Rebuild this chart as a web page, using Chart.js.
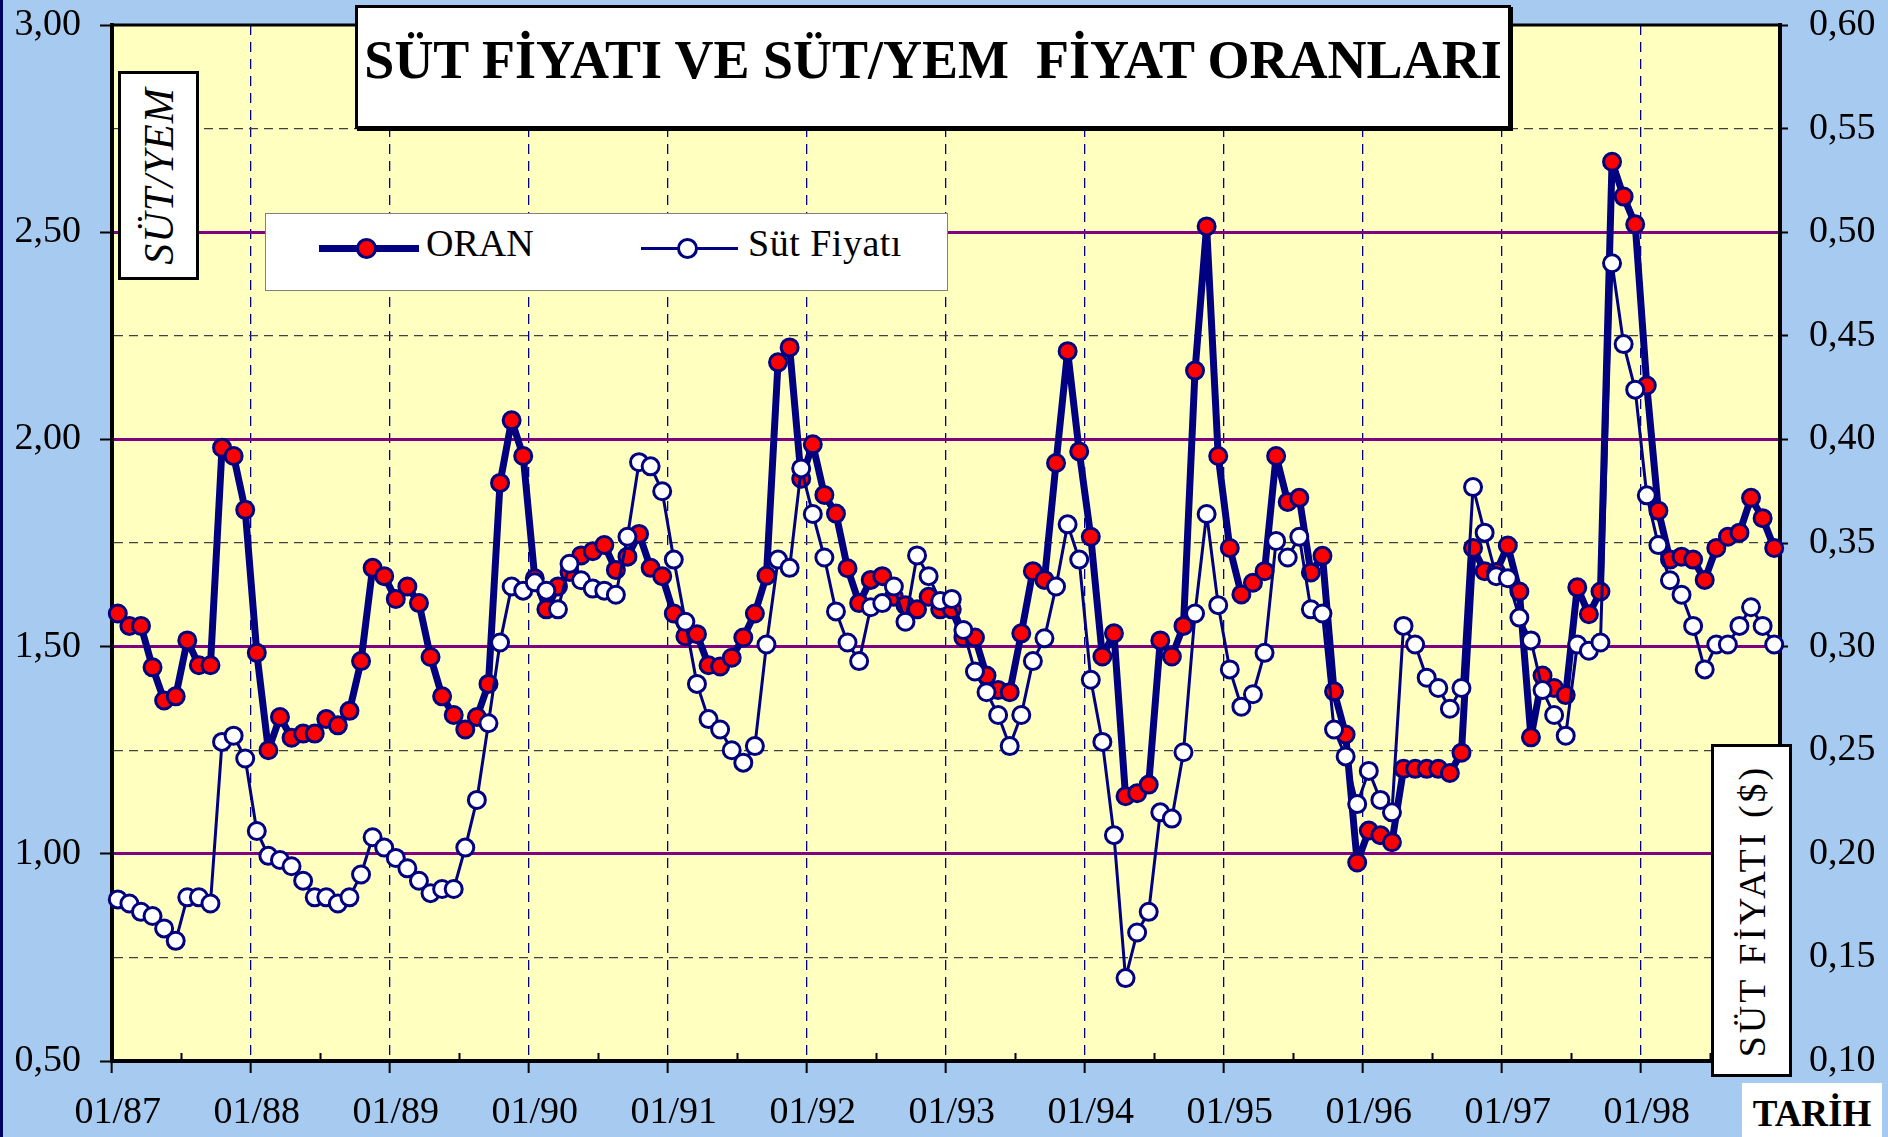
<!DOCTYPE html>
<html lang="tr">
<head>
<meta charset="utf-8">
<title>Süt Fiyatı ve Süt/Yem Fiyat Oranları</title>
<script src="https://cdn.jsdelivr.net/npm/chart.js@4.4.0/dist/chart.umd.min.js"></script>
<style>
html, body { margin: 0; padding: 0; }
body {
    width: 1888px; height: 1137px; overflow: hidden; position: relative;
    background: #A6CAF0;
    font-family: "Liberation Serif", "Times New Roman", serif;
}
#chartWrap { position: absolute; left: 0; top: 0; width: 1888px; height: 1137px; }
.edge { position: absolute; left: 0; top: 0; width: 3px; height: 1137px; background: #000060; }
.box { position: absolute; background: #fff; box-sizing: border-box; }
#titleBox { left: 355px; top: 5px; width: 1156px; height: 124px; border: 3px solid #000; box-shadow: 2px 2px 0 #000; }
#titleText {
    position: absolute; left: 355px; top: 33px; width: 1156px; text-align: center;
    font-weight: bold; font-size: 54px; line-height: 54px; white-space: nowrap; color: #000;
}
#legendBox { left: 265px; top: 213px; width: 683px; height: 78px; border: 1.5px solid #808080; }
.lgLine { position: absolute; background: #000080; }
.lgDot { position: absolute; width: 21px; height: 21px; box-sizing: border-box; border: 3px solid #000080; border-radius: 50%; }
.lgText { position: absolute; font-size: 38px; line-height: 38px; white-space: nowrap; color: #000; }
#yemBox { left: 118px; top: 71px; width: 81px; height: 209px; border: 3px solid #000; }
#fiyatBox { left: 1711px; top: 744px; width: 81px; height: 333px; border: 3px solid #000; }
.rotText {
    position: absolute; left: 50%; top: 50%; white-space: nowrap; color: #000;
    transform: translate(-50%, -50%) rotate(-90deg);
}
#yemText { font-style: italic; font-size: 42px; line-height: 42px; letter-spacing: 1px; }
#fiyatText { font-size: 38px; line-height: 38px; letter-spacing: 3px; }
#tarihBox { left: 1742px; top: 1083px; width: 140px; height: 54px; }
#tarihText {
    position: absolute; left: 0; top: 12px; width: 140px; text-align: center;
    font-weight: bold; font-size: 37px; line-height: 37px; color: #000;
}
</style>
</head>
<body>
<div class="edge"></div>
<div id="chartWrap"><canvas id="sutChart" width="1888" height="1137"></canvas></div>

<div id="titleBox" class="box"></div>
<div id="titleText">SÜT FİYATI VE SÜT/YEM&nbsp; FİYAT ORANLARI</div>

<div id="legendBox" class="box">
    <div class="lgLine" style="left:53px; top:31px; width:100px; height:7px;"></div>
    <div class="lgDot" style="left:90px; top:24px; background:#FF0000;"></div>
    <div class="lgText" style="left:160px; top:10px;">ORAN</div>
    <div class="lgLine" style="left:375px; top:33px; width:97px; height:3px;"></div>
    <div class="lgDot" style="left:411px; top:24px; background:#FFFFFF;"></div>
    <div class="lgText" style="left:482px; top:10px; letter-spacing:0.5px;">Süt Fiyatı</div>
</div>

<div id="yemBox" class="box"><div id="yemText" class="rotText">SÜT/YEM</div></div>
<div id="fiyatBox" class="box"><div id="fiyatText" class="rotText">SÜT FİYATI ($)</div></div>
<div id="tarihBox" class="box"><div id="tarihText">TARİH</div></div>

<script>
// ============================================================
// DATOS
// ============================================================

const YEARS = ['87', '88', '89', '90', '91', '92', '93', '94', '95', '96', '97', '98'];
const MONTHS = ['01', '02', '03', '04', '05', '06', '07', '08', '09', '10', '11', '12'];

// Süt/Yem fiyat oranı (sol eksen)
const ORAN = [
    1.58, 1.55, 1.55, 1.45, 1.37, 1.38, 1.515, 1.455, 1.455, 1.98, 1.96, 1.83,
    1.485, 1.25, 1.33, 1.28, 1.29, 1.29, 1.325, 1.31, 1.345, 1.465, 1.69, 1.67,
    1.615, 1.645, 1.605, 1.475, 1.38, 1.335, 1.30, 1.33, 1.41, 1.895, 2.046, 1.96,
    1.665, 1.59, 1.645, 1.68, 1.72, 1.73, 1.745, 1.685, 1.717, 1.772, 1.69, 1.67,
    1.58, 1.525, 1.53, 1.455, 1.452, 1.473, 1.522, 1.58, 1.671, 2.186, 2.222, 1.905,
    1.988, 1.866, 1.821, 1.689, 1.605, 1.661, 1.67, 1.62, 1.60, 1.59, 1.62, 1.59,
    1.59, 1.522, 1.522, 1.43, 1.395, 1.39, 1.532, 1.682, 1.661, 1.943, 2.213, 1.971,
    1.765, 1.476, 1.532, 1.139, 1.146, 1.167, 1.515, 1.476, 1.55, 2.166, 2.514, 1.96,
    1.738, 1.626, 1.654, 1.682, 1.96, 1.849, 1.859, 1.679, 1.719, 1.392, 1.288, 0.979,
    1.056, 1.045, 1.028, 1.205, 1.205, 1.205, 1.205, 1.195, 1.244, 1.738, 1.682, 1.68,
    1.744, 1.633, 1.281, 1.43, 1.40, 1.383, 1.643, 1.578, 1.633, 2.67, 2.586, 2.519,
    2.13, 1.828, 1.71, 1.717, 1.71, 1.661, 1.738, 1.765, 1.775, 1.859, 1.81, 1.738
];

// Süt fiyatı $ (sağ eksen)
const SUT_FIYATI = [
    0.178, 0.176, 0.172, 0.170, 0.164, 0.158, 0.179, 0.179, 0.176, 0.254, 0.257, 0.246,
    0.211, 0.199, 0.197, 0.194, 0.187, 0.179, 0.179, 0.176, 0.179, 0.190, 0.208, 0.203,
    0.198, 0.193, 0.187, 0.181, 0.183, 0.183, 0.203, 0.226, 0.263, 0.302, 0.329, 0.327,
    0.331, 0.327, 0.318, 0.340, 0.332, 0.328, 0.327, 0.325, 0.353, 0.389, 0.387, 0.375,
    0.342, 0.312, 0.282, 0.265, 0.260, 0.250, 0.244, 0.252, 0.301, 0.342, 0.338, 0.386,
    0.364, 0.343, 0.317, 0.302, 0.293, 0.319, 0.321, 0.329, 0.312, 0.344, 0.334, 0.322,
    0.323, 0.308, 0.288, 0.278, 0.267, 0.252, 0.267, 0.293, 0.304, 0.329, 0.359, 0.342,
    0.284, 0.254, 0.209, 0.140, 0.162, 0.172, 0.220, 0.217, 0.249, 0.316, 0.364, 0.320,
    0.289, 0.271, 0.277, 0.297, 0.351, 0.343, 0.353, 0.318, 0.316, 0.260, 0.247, 0.224,
    0.240, 0.226, 0.220, 0.310, 0.301, 0.285, 0.280, 0.270, 0.280, 0.377, 0.355, 0.334,
    0.333, 0.314, 0.303, 0.279, 0.267, 0.257, 0.301, 0.298, 0.302, 0.485, 0.446, 0.424,
    0.373, 0.349, 0.332, 0.325, 0.310, 0.289, 0.301, 0.301, 0.310, 0.319, 0.310, 0.301
];

const LEFT_MIN = 0.5, LEFT_MAX = 3.0, LEFT_STEP = 0.25;
const RIGHT_MIN = 0.10, RIGHT_MAX = 0.60, RIGHT_STEP = 0.05;

const labels = [];
YEARS.forEach(y => MONTHS.forEach(m => labels.push(m + '/' + y)));

// ============================================================
// AYARLAR
// ============================================================

const tickFont = { family: '"Liberation Serif", "Times New Roman", serif', size: 38, lineHeight: 1 };
const NONE = 'rgba(0,0,0,0)';

function fmt(v) {
    return Number(v).toFixed(2).replace('.', ',');
}

function isHalf(v) {
    return Math.abs(v * 2 - Math.round(v * 2)) < 1e-6;
}

function isEdge(v) {
    return Math.abs(v - LEFT_MIN) < 1e-6 || Math.abs(v - LEFT_MAX) < 1e-6;
}

// y eksenlerinin etiket payini sifirla, plot ust kenari layout padding ile belirlensin
function fixYAxis(width) {
    return function (s) {
        s.width = width;
        s.paddingTop = 0;
        s.paddingBottom = 0;
    };
}

const framePlugin = {
    id: 'frame',
    beforeDraw(chart) {
        const a = chart.chartArea;
        const ctx = chart.ctx;
        ctx.save();
        ctx.fillStyle = '#FFFFC0';
        ctx.fillRect(a.left, a.top, a.right - a.left, a.bottom - a.top);
        ctx.restore();
    },
    afterDraw(chart) {
        const a = chart.chartArea;
        const ctx = chart.ctx;
        const xs = chart.scales.x;
        ctx.save();
        ctx.strokeStyle = '#000';
        ctx.lineWidth = 3;
        ctx.beginPath();
        ctx.moveTo(a.left - 2, a.top);
        ctx.lineTo(a.right + 2, a.top);
        ctx.stroke();
        // small inner ticks, July
        ctx.lineWidth = 2;
        for (let i = 6; i < labels.length; i += 12) {
            const x = (xs.getPixelForValue(i - 1) + xs.getPixelForValue(i)) / 2;
            ctx.beginPath();
            ctx.moveTo(x, a.bottom);
            ctx.lineTo(x, a.bottom - 8);
            ctx.stroke();
        }
        ctx.restore();
    }
};

// ============================================================
// GRAFIK
// ============================================================

const chart = new Chart(document.getElementById('sutChart'), {
    type: 'line',
    data: {
        labels: labels,
        datasets: [
            {
                label: 'ORAN',
                data: ORAN,
                yAxisID: 'y',
                borderColor: '#000080',
                borderWidth: 7,
                borderJoinStyle: 'round',
                backgroundColor: '#FF0000',
                pointBackgroundColor: '#FF0000',
                pointBorderColor: '#000080',
                pointBorderWidth: 3,
                pointRadius: 8.5,
                tension: 0,
                order: 2
            },
            {
                label: 'Süt Fiyatı',
                data: SUT_FIYATI,
                yAxisID: 'y2',
                borderColor: '#000080',
                borderWidth: 3,
                borderJoinStyle: 'round',
                backgroundColor: '#FFFFFF',
                pointBackgroundColor: '#FFFFFF',
                pointBorderColor: '#000080',
                pointBorderWidth: 3,
                pointRadius: 8.5,
                tension: 0,
                order: 1
            }
        ]
    },
    options: {
        responsive: false,
        animation: false,
        devicePixelRatio: 1,
        layout: { padding: { top: 25, left: 0, right: 0, bottom: 0 } },
        plugins: {
            legend: { display: false },
            tooltip: { enabled: false },
            title: { display: false }
        },
        scales: {
            x: {
                type: 'category',
                offset: true,
                afterFit: s => { s.height = 76; },
                ticks: {
                    autoSkip: false, maxRotation: 0, minRotation: 0, padding: 21,
                    color: '#000', font: tickFont,
                    callback: function (val, idx) {
                        return idx % 12 === 0 ? this.getLabelForValue(val) : '';
                    }
                },
                grid: {
                    offset: true,
                    color: ctx => (ctx.index % 12 === 0 && ctx.index > 0) ? '#000080' : NONE,
                    lineWidth: 1.3,
                    tickLength: 12,
                    tickWidth: 2,
                    tickColor: ctx => ctx.index % 12 === 0 ? '#000' : NONE
                },
                border: {
                    color: '#000', width: 4,
                    dash: ctx => ctx.type === 'tick' ? [10, 7] : []
                }
            },
            y: {
                position: 'left',
                min: LEFT_MIN, max: LEFT_MAX,
                afterFit: fixYAxis(112),
                ticks: {
                    stepSize: LEFT_STEP, autoSkip: false, padding: 19,
                    color: '#000', font: tickFont,
                    callback: v => isHalf(v) ? fmt(v) : ''
                },
                grid: {
                    color: ctx => {
                        const v = ctx.tick.value;
                        if (isEdge(v)) return NONE;
                        return isHalf(v) ? '#800080' : '#404040';
                    },
                    lineWidth: ctx => isHalf(ctx.tick.value) ? 3 : 1.3,
                    tickLength: 12,
                    tickWidth: 2,
                    tickColor: ctx => isHalf(ctx.tick.value) ? '#000' : NONE
                },
                border: {
                    color: '#000', width: 4,
                    dash: ctx => (ctx.type === 'tick' && !isHalf(ctx.tick.value)) ? [9, 6] : []
                }
            },
            y2: {
                position: 'right',
                min: RIGHT_MIN, max: RIGHT_MAX,
                afterFit: fixYAxis(108),
                ticks: {
                    stepSize: RIGHT_STEP, autoSkip: false, padding: 21,
                    color: '#000', font: tickFont,
                    callback: v => fmt(v)
                },
                grid: { drawOnChartArea: false, tickLength: 8, tickWidth: 2, tickColor: '#000' },
                border: { color: '#000', width: 4 }
            }
        }
    },
    plugins: [framePlugin]
});

console.log('grafik hazir', chart.chartArea);
</script>
</body>
</html>
